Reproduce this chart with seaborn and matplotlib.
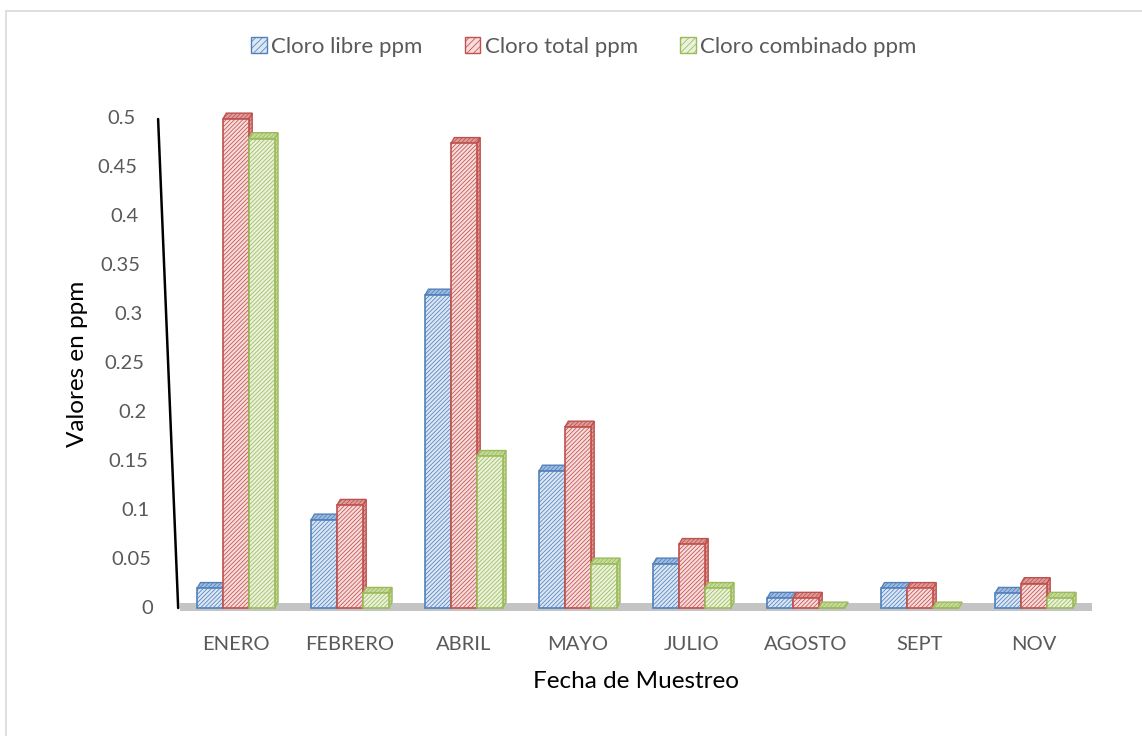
import numpy as np
import pandas as pd
import matplotlib
matplotlib.use("Agg")
import matplotlib.pyplot as plt
from matplotlib.patches import Polygon, Patch
from matplotlib.lines import Line2D
import matplotlib.transforms as mtransforms
import seaborn as sns

# ---- data -------------------------------------------------------------
meses = ["ENERO", "FEBRERO", "ABRIL", "MAYO", "JULIO", "AGOSTO", "SEPT", "NOV"]
cloro_libre = [0.02, 0.09, 0.32, 0.14, 0.045, 0.01, 0.02, 0.015]
cloro_total = [0.50, 0.105, 0.475, 0.185, 0.065, 0.01, 0.02, 0.025]
cloro_combinado = [0.48, 0.015, 0.155, 0.045, 0.02, 0.0, 0.0, 0.01]
series = ["Cloro libre ppm", "Cloro total ppm", "Cloro combinado ppm"]
y_ticks = [0, 0.05, 0.1, 0.15, 0.2, 0.25, 0.3, 0.35, 0.4, 0.45, 0.5]
y_tick_labels = ["0", "0.05", "0.1", "0.15", "0.2", "0.25", "0.3", "0.35", "0.4", "0.45", "0.5"]

df = pd.DataFrame({
    "mes": meses * 3,
    "serie": [series[0]] * 8 + [series[1]] * 8 + [series[2]] * 8,
    "valor": cloro_libre + cloro_total + cloro_combinado,
})

# ---- style ------------------------------------------------------------
sns.set_style("white")
plt.rcParams["font.family"] = ["Lato", "DejaVu Sans"]
plt.rcParams["hatch.linewidth"] = 0.55

fills = ["#dde7f4", "#f7dcdb", "#eaf2dc"]
edges = ["#4f81bd", "#c0504d", "#9bbb59"]
tops = ["#a3bbdc", "#dc9e9c", "#c8da9f"]
grey_txt = "#595959"
HATCH = "////////"

fig = plt.figure(figsize=(11.42, 7.36), dpi=100)
ax = fig.add_axes([180 / 1142, 1 - 608 / 736, 912 / 1142, (608 - 119) / 736])

sns.barplot(data=df, x="mes", y="valor", hue="serie", order=meses,
            hue_order=series, palette=fills, width=0.68, gap=0,
            ax=ax, legend=False, saturation=1)

ax.set_xlim(-0.49, 7.51)
ax.set_ylim(0, 0.5)

# depth of the pseudo-3D columns (data units)
dx, dy = 0.03, 0.006

for i, cont in enumerate(ax.containers):
    for bar in cont.patches:
        bar.set_facecolor(fills[i])
        bar.set_edgecolor(edges[i])
        bar.set_hatch(HATCH)
        bar.set_linewidth(1.2)
        bar.set_zorder(3 + i + 0.1)
        bar.set_clip_on(False)
        x, w, h = bar.get_x(), bar.get_width(), bar.get_height()
        top = Polygon([(x, h), (x + w, h), (x + w + dx, h + dy), (x + dx, h + dy)],
                      closed=True, facecolor=tops[i], edgecolor=edges[i],
                      hatch=HATCH, linewidth=1.0, zorder=3 + i, clip_on=False)
        side = Polygon([(x + w, 0), (x + w + dx, dy), (x + w + dx, h + dy), (x + w, h)],
                       closed=True, facecolor=tops[i], edgecolor=edges[i],
                       hatch=HATCH, linewidth=1.0, zorder=3 + i, clip_on=False)
        ax.add_patch(side)
        ax.add_patch(top)

# floor
floor = ax.axhspan(-0.003, 0.005, xmin=0.0, xmax=1.0, facecolor="#c4c4c4",
                   edgecolor="none", zorder=2)
floor.set_clip_on(False)

# slanted value axis
ax.plot([-0.024, -0.002], [1.0, 0.0], transform=ax.transAxes, color="black",
        linewidth=1.8, clip_on=False, zorder=5)

# value axis labels following the slanted axis
trans = mtransforms.blended_transform_factory(ax.transAxes, ax.transData)
for v, lab in zip(y_ticks, y_tick_labels):
    xf = -0.049 + 0.020 * (1 - v / 0.5)
    ax.text(xf, v, lab, transform=trans, ha="right", va="center",
            fontsize=14.5, color=grey_txt)

ax.set_yticks([])
ax.tick_params(axis="x", length=0, pad=20, labelsize=14.5, labelcolor=grey_txt)
for s in ax.spines.values():
    s.set_visible(False)

ax.set_xlabel("Fecha de Muestreo", fontsize=17.5, color="black", labelpad=13)
ax.set_ylabel("Valores en ppm", fontsize=17.5, color="black")
ax.yaxis.set_label_coords(-0.101, 0.5)

# legend
handles = [Patch(facecolor=fills[i], edgecolor=edges[i], hatch="/////", linewidth=1.0)
           for i in range(3)]
fig.legend(handles, series, loc="center", bbox_to_anchor=(584 / 1142, 1 - 47 / 736),
           ncol=3, frameon=False, fontsize=16, handlelength=0.7, handleheight=0.7,
           handletextpad=0.2, columnspacing=1.9, labelcolor=grey_txt)

# chart-area border
fig.add_artist(Line2D([6 / 1142, 1.0], [1 - 11 / 736, 1 - 11 / 736],
                      transform=fig.transFigure, color="#d9d9d9", linewidth=1.2))
fig.add_artist(Line2D([6 / 1142, 6 / 1142], [0.0, 1 - 11 / 736],
                      transform=fig.transFigure, color="#d9d9d9", linewidth=1.2))

fig.savefig("out.png", dpi=100, facecolor="white")
